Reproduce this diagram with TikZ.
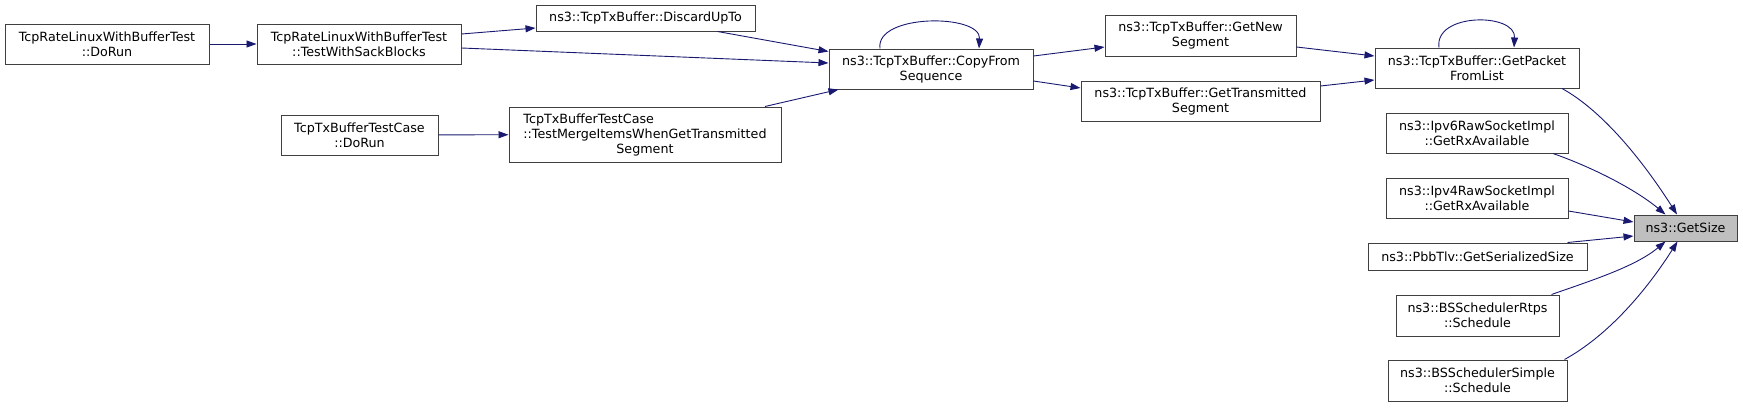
\documentclass[tikz,border=0pt]{standalone}
\usepackage{fontspec}
\setmainfont{DejaVu Sans}
\usepackage{xcolor}
\usetikzlibrary{arrows.meta}
\definecolor{edgeblue}{RGB}{25,25,112}
\definecolor{boxline}{RGB}{64,64,64}
\definecolor{boxfill}{RGB}{191,191,191}

\begin{document}
\begin{tikzpicture}[x=1pt, y=-1pt,
		fn/.style={draw=boxline, line width=1pt, fill=white, align=center, inner sep=0pt,
			font=\fontsize{12.7}{15}\selectfont},
		call/.style={draw=edgeblue, line width=0.9pt, -{Triangle[length=10pt,width=7pt]}}]
				\useasboundingbox (0, 0) rectangle (1743, 407);
				
				\node[fn, minimum width=204, minimum height=40] (DoRun) at (107, 44) {TcpRateLinuxWithBufferTest\\::DoRun};
				\node[fn, minimum width=204, minimum height=40] (Sack) at (359, 44) {TcpRateLinuxWithBufferTest\\::TestWithSackBlocks};
				\node[fn, minimum width=157, minimum height=40] (CaseDoRun) at (359.5, 135) {TcpTxBufferTestCase\\::DoRun};
				\node[fn, minimum width=219, minimum height=26] (Discard) at (645.5, 18) {ns3::TcpTxBuffer::DiscardUpTo};
				\node[fn, minimum width=272, minimum height=55] (Merge) at (645, 134.5) {\rlap{TcpTxBufferTestCase}\phantom{::TestMergeItemsWhenGetTransmitted}\\::TestMergeItemsWhenGetTransmitted\\Segment};
				\node[fn, minimum width=204, minimum height=40] (Copy) at (931, 69) {ns3::TcpTxBuffer::CopyFrom\\Sequence};
				\node[fn, minimum width=191, minimum height=41] (GetNew) at (1200.5, 35.5) {ns3::TcpTxBuffer::GetNew\\Segment};
				\node[fn, minimum width=239, minimum height=40] (GetTrans) at (1200.5, 101) {ns3::TcpTxBuffer::GetTransmitted\\Segment};
				\node[fn, minimum width=204, minimum height=40] (GetPacket) at (1477, 68) {ns3::TcpTxBuffer::GetPacket\\FromList};
				\node[fn, minimum width=182, minimum height=40] (Ipv6) at (1477, 133) {ns3::Ipv6RawSocketImpl\\::GetRxAvailable};
				\node[fn, minimum width=182, minimum height=40] (Ipv4) at (1477, 198) {ns3::Ipv4RawSocketImpl\\::GetRxAvailable};
				\node[fn, minimum width=219, minimum height=27] (Pbb) at (1477.5, 256.5) {ns3::PbbTlv::GetSerializedSize};
				\node[fn, minimum width=163, minimum height=41] (Rtps) at (1477.5, 315.5) {ns3::BSSchedulerRtps\\::Schedule};
				\node[fn, minimum width=179, minimum height=41] (Simple) at (1477.5, 380.5) {ns3::BSSchedulerSimple\\::Schedule};
				\node[fn, fill=boxfill, minimum width=103, minimum height=26] (GetSize) at (1685.5, 228) {ns3::GetSize};
				
				\draw[call] (DoRun) -- (Sack);
				\draw[call] ([yshift=10pt]Sack.east) -- ([yshift=-10pt]Discard.west);
				\draw[call] ([yshift=-4pt]Sack.east) -- ([yshift=6pt]Copy.west);
				\draw[call] ([xshift=72pt]Discard.south) -- ([yshift=-3pt]Copy.north west);
				\draw[call] (CaseDoRun) -- (Merge);
				\draw[call] ([xshift=120pt]Merge.north) -- ([xshift=10pt]Copy.south west);
				\draw[call] ([xshift=-51pt]Copy.north) .. controls +(-5, -35) and +(2, -35) .. ([xshift=48pt]Copy.north);
				
				\draw[call] ([yshift=13pt]Copy.east) -- ([yshift=-11.5pt]GetNew.west);
				\draw[call] ([yshift=-12pt]Copy.east) -- ([yshift=13pt]GetTrans.west);
				\draw[call] ([yshift=-11.5pt]GetNew.east) -- ([yshift=12pt]GetPacket.west);
				\draw[call] ([yshift=15pt]GetTrans.east) -- ([yshift=-12pt]GetPacket.west);
				\draw[call] ([xshift=-38pt]GetPacket.north) .. controls +(-5, -35) and +(2, -35) .. ([xshift=37pt]GetPacket.north);
				
				\draw[call] ([xshift=85pt]GetPacket.south) .. controls +(40, 22) and +(-35, -55) .. ([xshift=-8.5pt]GetSize.north);
				\draw[call] ([xshift=76pt]Ipv6.south) .. controls +(40, 14) and +(-30, -25) .. ([xshift=-20pt]GetSize.north);
				\draw[call] ([yshift=-13pt]Ipv4.east) -- ([yshift=6pt]GetSize.west);
				\draw[call] ([xshift=90pt]Pbb.north) -- ([yshift=-8pt]GetSize.west);
				\draw[call] ([xshift=74pt]Rtps.north) .. controls +(40, -14) and +(-30, 25) .. ([xshift=-20pt]GetSize.south);
				\draw[call] ([xshift=87pt]Simple.north) .. controls +(40, -22) and +(-35, 55) .. ([xshift=-8pt]GetSize.south);
\end{tikzpicture}
\end{document}
